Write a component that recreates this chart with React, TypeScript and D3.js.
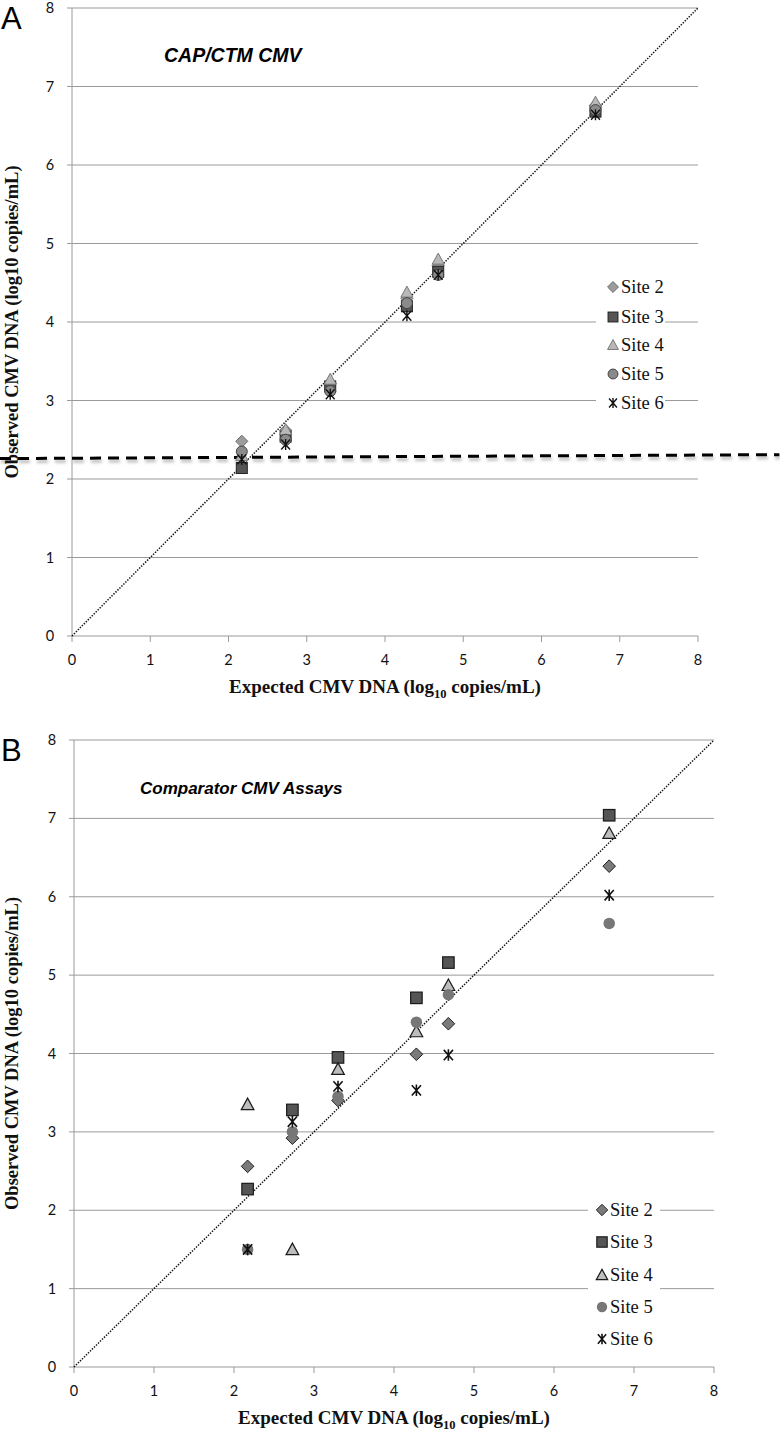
import React from 'react';
import * as d3 from 'd3';

// ---------- data ----------
const expected = [2.17, 2.73, 3.3, 4.28, 4.68, 6.69];
const siteNames = ['Site 2', 'Site 3', 'Site 4', 'Site 5', 'Site 6'];

const capSite2 = [2.48, 2.62, 3.22, 4.3, 4.72, 6.76];
const capSite3 = [2.14, 2.54, 3.18, 4.2, 4.64, 6.68];
const capSite4 = [2.3, 2.63, 3.27, 4.38, 4.8, 6.8];
const capSite5 = [2.35, 2.5, 3.12, 4.24, 4.6, 6.7];
const capSite6 = [2.25, 2.44, 3.08, 4.08, 4.6, 6.64];

const compSite2 = [2.56, 2.92, 3.4, 3.99, 4.38, 6.39];
const compSite3 = [2.27, 3.28, 3.95, 4.71, 5.16, 7.04];
const compSite4 = [3.35, 1.5, 3.8, 4.28, 4.87, 6.81];
const compSite5 = [1.5, 3.0, 3.45, 4.4, 4.75, 5.66];
const compSite6 = [1.5, 3.13, 3.58, 3.53, 3.98, 6.02];

const ticks = [0, 1, 2, 3, 4, 5, 6, 7, 8];
const lloqLine = [{ x: -0.92, y: 2.26 }, { x: 9.04, y: 2.31 }];

type Style = { fill: string; stroke: string; sw: number };
type Shape = 'diamond' | 'square' | 'triangle' | 'circle' | 'asterisk';
const shapes: Shape[] = ['diamond', 'square', 'triangle', 'circle', 'asterisk'];

const stylesA: Style[] = [
  { fill: '#9c9c9c', stroke: '#6a6a6a', sw: 1 },
  { fill: '#555555', stroke: '#222222', sw: 1 },
  { fill: '#b8b8b8', stroke: '#7a7a7a', sw: 1 },
  { fill: '#8a8a8a', stroke: '#444444', sw: 1 },
  { fill: 'none', stroke: '#111111', sw: 1.4 },
];
const stylesB: Style[] = [
  { fill: '#7a7a7a', stroke: '#222222', sw: 1 },
  { fill: '#555555', stroke: '#1a1a1a', sw: 1.2 },
  { fill: '#bdbdbd', stroke: '#1a1a1a', sw: 1.2 },
  { fill: '#777777', stroke: 'none', sw: 0 },
  { fill: 'none', stroke: '#111111', sw: 1.6 },
];

function Marker({ shape, x, y, s, st }: { shape: Shape; x: number; y: number; s: number; st: Style }) {
  const h = s / 2;
  if (shape === 'diamond') {
    return <path d={`M${x},${y - h * 1.1}L${x + h * 1.1},${y}L${x},${y + h * 1.1}L${x - h * 1.1},${y}Z`} fill={st.fill} stroke={st.stroke} strokeWidth={st.sw} />;
  }
  if (shape === 'square') {
    return <rect x={x - h} y={y - h} width={s} height={s} fill={st.fill} stroke={st.stroke} strokeWidth={st.sw} />;
  }
  if (shape === 'triangle') {
    return <path d={`M${x},${y - h * 1.1}L${x + h * 1.1},${y + h * 0.9}L${x - h * 1.1},${y + h * 0.9}Z`} fill={st.fill} stroke={st.stroke} strokeWidth={st.sw} />;
  }
  if (shape === 'circle') {
    return <circle cx={x} cy={y} r={h} fill={st.fill} stroke={st.stroke} strokeWidth={st.sw} />;
  }
  const dx = h * 0.8;
  return (
    <path d={`M${x - dx},${y - h * 0.9}L${x + dx},${y + h * 0.9}M${x + dx},${y - h * 0.9}L${x - dx},${y + h * 0.9}M${x},${y - h}L${x},${y + h}`} stroke={st.stroke} strokeWidth={st.sw} fill="none" />
  );
}

type PanelProps = {
  x0: number; x8: number; y0: number; y8: number;
  letter: string; title: string; titleX: number; titleSize: number;
  series: number[][]; styles: Style[]; msize: number;
  legendX: number; legendYs: number[]; legendBox: [number, number];
  lloq?: boolean;
};

function Panel(p: PanelProps) {
  const xs = d3.scaleLinear().domain([0, 8]).range([p.x0, p.x8]);
  const ys = d3.scaleLinear().domain([0, 8]).range([p.y0, p.y8]);
  const grid = '#9a9a9a';
  const lineGen = d3.line<{ x: number; y: number }>().x(d => xs(d.x)).y(d => ys(d.y));
  const midX = (p.x0 + p.x8) / 2;
  const midY = (p.y0 + p.y8) / 2;
  return (
    <g>
      {ticks.filter(t => t > 0).map(t => (
        <line key={'g' + t} x1={xs(0) - 5} x2={xs(8)} y1={ys(t)} y2={ys(t)} stroke={grid} strokeWidth={1} />
      ))}
      <line x1={xs(0)} x2={xs(0)} y1={ys(0)} y2={ys(8)} stroke={grid} strokeWidth={1} />
      <line x1={xs(0) - 5} x2={xs(8)} y1={ys(0)} y2={ys(0)} stroke={grid} strokeWidth={1} />
      {ticks.map(t => (
        <line key={'xt' + t} x1={xs(t)} x2={xs(t)} y1={ys(0)} y2={ys(0) + 6} stroke={grid} strokeWidth={1} />
      ))}
      {ticks.map(t => (
        <text key={'yl' + t} x={xs(0) - 22} y={ys(t) + 5} textAnchor="middle" fontFamily="Lato, 'Open Sans', sans-serif" fontSize={14.5} fill="#111">{t}</text>
      ))}
      {ticks.map(t => (
        <text key={'xl' + t} x={xs(t)} y={ys(0) + 29} textAnchor="middle" fontFamily="Lato, 'Open Sans', sans-serif" fontSize={14.5} fill="#111">{t}</text>
      ))}
      <rect x={p.legendBox[0]} y={p.legendYs[0] - 14} width={p.legendBox[1] - p.legendBox[0]} height={p.legendYs[4] - p.legendYs[0] + 28} fill="#fff" />
      <line x1={xs(0)} y1={ys(0)} x2={xs(8)} y2={ys(8)} stroke="#111" strokeWidth={1.5} strokeDasharray="1.4,1.4" />
      {p.lloq && (
        <g>
          <path d={lineGen(lloqLine) || ''} stroke="#bbb" strokeWidth={3} strokeDasharray="11,7" fill="none" transform="translate(1,3)" filter="url(#blur)" />
          <path d={lineGen(lloqLine) || ''} stroke="#000" strokeWidth={3} strokeDasharray="11,7" fill="none" />
        </g>
      )}
      {p.series.map((vals, si) => (
        <g key={'s' + si}>
          {vals.map((v, i) => (
            <Marker key={i} shape={shapes[si]} x={xs(expected[i])} y={ys(v)} s={p.msize} st={p.styles[si]} />
          ))}
        </g>
      ))}
      {siteNames.map((n, i) => (
        <g key={'lg' + i}>
          <Marker shape={shapes[i]} x={p.legendX} y={p.legendYs[i]} s={p.msize * 0.9} st={p.styles[i]} />
          <text x={p.legendX + 8} y={p.legendYs[i] + 6} fontFamily="'Liberation Serif', 'Times New Roman', serif" fontSize={18.5} fill="#111">{n}</text>
        </g>
      ))}
      <text x={1} y={p.y8 + 21} fontFamily="'Liberation Sans', Arial, sans-serif" fontSize={31} fill="#000">{p.letter}</text>
      <text x={p.titleX} y={p.y8 + 54} fontFamily="'Liberation Sans', Arial, sans-serif" fontSize={p.titleSize} fontWeight="bold" fontStyle="italic" fill="#000">{p.title}</text>
      <text x={midX} y={p.y0 + 57} textAnchor="middle" fontFamily="'Liberation Serif', 'Times New Roman', serif" fontSize={19} fontWeight="bold" fill="#111">
        Expected CMV DNA (log<tspan fontSize={12.5} dy={5}>10</tspan><tspan dy={-5}>{'  copies/mL)'}</tspan>
      </text>
      <text transform={`translate(18,${midY}) rotate(-90)`} textAnchor="middle" fontFamily="'Liberation Serif', 'Times New Roman', serif" fontSize={18.5} fontWeight="bold" fill="#111">
        Observed CMV DNA (log10 copies/mL)
      </text>
    </g>
  );
}

export default function App() {
  return (
    <svg width={780} height={1433} style={{ position: 'absolute', left: 0, top: 0, background: '#fff' }}>
      <defs>
        <filter id="blur" x="-5%" y="-200%" width="110%" height="500%">
          <feGaussianBlur stdDeviation="1.5" />
        </filter>
      </defs>
      <rect x={0} y={0} width={780} height={1433} fill="#fff" />
      <Panel
        x0={72} x8={698} y0={636} y8={8}
        letter="A" title="CAP/CTM CMV" titleX={164} titleSize={19.5}
        series={[capSite2, capSite3, capSite4, capSite5, capSite6]} styles={stylesA} msize={11}
        legendX={613} legendYs={[287, 317, 345, 374, 403]} legendBox={[596, 665]}
        lloq
      />
      <Panel
        x0={74} x8={714} y0={1367} y8={740}
        letter="B" title="Comparator CMV Assays" titleX={140} titleSize={17}
        series={[compSite2, compSite3, compSite4, compSite5, compSite6]} styles={stylesB} msize={11.5}
        legendX={602} legendYs={[1210, 1242, 1275, 1307, 1339]} legendBox={[588, 660]}
      />
    </svg>
  );
}
